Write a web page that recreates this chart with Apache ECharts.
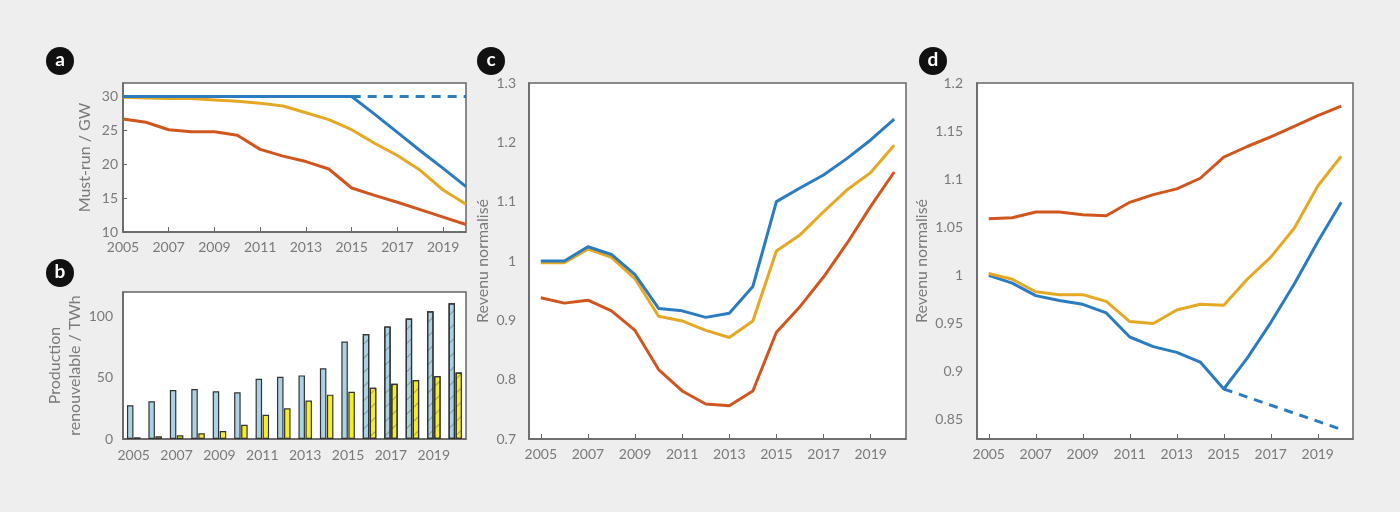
<!DOCTYPE html>
<html>
<head>
<meta charset="utf-8">
<script src="https://cdn.jsdelivr.net/npm/echarts@6/dist/echarts.min.js"></script>
<style>
  html, body { margin: 0; padding: 0; background: #eeeeee; }
  #main { width: 1400px; height: 512px; }
</style>
</head>
<body>
<div id="main"></div>
<script>
// annees
var years = ['2005','2006','2007','2008','2009','2010','2011','2012','2013','2014','2015','2016','2017','2018','2019','2020'];
var yearNums = [2005,2006,2007,2008,2009,2010,2011,2012,2013,2014,2015,2016,2017,2018,2019,2020];

// a - must-run / GW
var mustRunBlue = [30,30,30,30,30,30,30,30,30,30,30,27.4,24.7,22.0,19.4,16.7];
var mustRunBlueDash = [30,30]; // 2015 -> 2020
var mustRunYellow = [29.9,29.8,29.7,29.7,29.5,29.3,29.0,28.6,27.6,26.6,25.1,23.1,21.3,19.1,16.2,14.1];
var mustRunOrange = [26.7,26.2,25.1,24.8,24.8,24.3,22.2,21.2,20.4,19.3,16.5,15.4,14.4,13.3,12.2,11.1];

// b - production renouvelable / TWh
var prodBlue = [27.6,30.8,40,40.8,38.9,38.1,49.2,50.8,51.9,57.8,79.5,85.7,91.9,98.4,104.3,110.8];
var prodYellow = [1.4,2.2,3,4.6,6.5,11.6,19.7,25.1,31.4,36.2,38.6,41.9,45.1,48.1,51.4,54.3];
var firstProjected = 2016;

// c - revenu normalise
var revCBlue = [1.000,1.000,1.024,1.011,0.977,0.920,0.916,0.905,0.912,0.957,1.100,1.123,1.145,1.173,1.204,1.239];
var revCYellow = [0.997,0.997,1.020,1.006,0.970,0.907,0.899,0.883,0.871,0.899,1.017,1.044,1.083,1.120,1.149,1.195];
var revCOrange = [0.938,0.929,0.934,0.916,0.883,0.817,0.781,0.759,0.756,0.781,0.880,0.923,0.973,1.030,1.092,1.150];

// d - revenu normalise
var revDOrange = [1.059,1.060,1.066,1.066,1.063,1.062,1.076,1.084,1.090,1.101,1.123,1.134,1.144,1.155,1.166,1.176];
var revDYellow = [1.002,0.996,0.983,0.980,0.980,0.973,0.952,0.950,0.964,0.970,0.969,0.996,1.019,1.049,1.093,1.124];
var revDBlue = [1.000,0.992,0.979,0.974,0.970,0.961,0.936,0.926,0.920,0.910,0.882,0.914,0.951,0.991,1.035,1.076];
var revDBlueDash = [null,null,null,null,null,null,null,null,null,null,0.882,null,null,null,null,0.840];

var cBlue = '#2b7bc1', cYellow = '#e6a823', cOrange = '#d0561e';
var txt = '#7a7a7a', axisCol = '#666666';
var font = 'Lato';

var myChart = echarts.init(document.getElementById('main'));

function pairs(xs, ys) {
  var out = [];
  for (var i = 0; i < xs.length; i++) out.push([xs[i], ys[i]]);
  return out;
}

function lineSeries(x, y, data, color, dashed) {
  return {
    type: 'line', xAxisIndex: x, yAxisIndex: y, data: data,
    symbol: 'none', connectNulls: true, silent: true,
    lineStyle: { color: color, width: 3, type: dashed ? [9, 7] : 'solid' }
  };
}

// barres hachurees a partir de 2016 (projection)
function barData(vals, color) {
  return vals.map(function (v, i) {
    var item = { value: v, itemStyle: { color: color } };
    if (yearNums[i] >= firstProjected) {
      item.itemStyle.decal = {
        symbol: 'rect', symbolSize: 1, color: 'rgba(60,60,60,0.4)',
        dashArrayX: [1, 0], dashArrayY: [1, 9], rotation: -Math.PI / 4
      };
    }
    return item;
  });
}

var gridBase = { show: true, backgroundColor: '#ffffff', borderColor: axisCol, borderWidth: 1.5 };
var lbl = { color: txt, fontFamily: font, fontSize: 14 };
function nameStyle(lh) {
  return { color: txt, fontFamily: font, fontSize: 16, lineHeight: lh };
}
var axLine = { show: true, lineStyle: { color: axisCol, width: 1.5 } };
var tickIn = { show: true, inside: true, length: 5, lineStyle: { color: axisCol } };

var option = {
  backgroundColor: '#eeeeee',
  animation: false,
  grid: [
    Object.assign({ left: 123, top: 83, width: 343, height: 149 }, gridBase),
    Object.assign({ left: 123, top: 292, width: 343, height: 147 }, gridBase),
    Object.assign({ left: 529, top: 83, width: 377, height: 356 }, gridBase),
    Object.assign({ left: 977, top: 83, width: 376, height: 356 }, gridBase)
  ],
  xAxis: [
    { gridIndex: 0, type: 'value', min: 2005, max: 2020, interval: 2,
      axisLine: axLine, splitLine: { show: false }, axisTick: tickIn,
      axisLabel: Object.assign({ margin: 8, formatter: function (v) { return String(v); } }, lbl) },
    { gridIndex: 1, type: 'category', data: years,
      axisLine: axLine, axisTick: { show: false },
      axisLabel: Object.assign({ interval: 1, margin: 9 }, lbl) },
    { gridIndex: 2, type: 'category', data: years, boundaryGap: true,
      axisLine: axLine,
      axisTick: Object.assign({ alignWithLabel: true, interval: 1 }, tickIn),
      axisLabel: Object.assign({ interval: 1, margin: 8 }, lbl) },
    { gridIndex: 3, type: 'category', data: years, boundaryGap: true,
      axisLine: axLine,
      axisTick: Object.assign({ alignWithLabel: true, interval: 1 }, tickIn),
      axisLabel: Object.assign({ interval: 1, margin: 8 }, lbl) }
  ],
  yAxis: [
    { gridIndex: 0, type: 'value', min: 10, max: 32, interval: 5,
      name: 'Must-run / GW', nameLocation: 'middle', nameGap: 28, nameTextStyle: nameStyle(20),
      axisLine: axLine, splitLine: { show: false },
      axisTick: { show: true, inside: true, length: 4, lineStyle: { color: axisCol } },
      axisLabel: Object.assign({ margin: 5, showMaxLabel: false }, lbl) },
    { gridIndex: 1, type: 'value', min: 0, max: 120, interval: 50,
      name: 'Production\nrenouvelable / TWh', nameLocation: 'middle', nameGap: 27, nameTextStyle: nameStyle(20),
      axisLine: axLine, splitLine: { show: false }, axisTick: { show: false },
      axisLabel: Object.assign({ margin: 10, showMaxLabel: false }, lbl) },
    { gridIndex: 2, type: 'value', min: 0.7, max: 1.3, interval: 0.1,
      name: 'Revenu normalisé', nameLocation: 'middle', nameGap: 30, nameTextStyle: nameStyle(20),
      axisLine: axLine, splitLine: { show: false }, axisTick: { show: false },
      axisLabel: Object.assign({ margin: 13 }, lbl) },
    { gridIndex: 3, type: 'value', min: 0.83, max: 1.2, splitNumber: 7,
      name: 'Revenu normalisé', nameLocation: 'middle', nameGap: 42, nameTextStyle: nameStyle(20),
      axisLine: axLine, splitLine: { show: false }, axisTick: { show: false },
      axisLabel: Object.assign({ margin: 14, showMinLabel: false }, lbl) }
  ],
  series: [
    lineSeries(0, 0, pairs(yearNums, mustRunOrange), cOrange),
    lineSeries(0, 0, pairs(yearNums, mustRunYellow), cYellow),
    lineSeries(0, 0, [[2015, mustRunBlueDash[0]], [2020, mustRunBlueDash[1]]], cBlue, true),
    lineSeries(0, 0, pairs(yearNums, mustRunBlue), cBlue),

    { type: 'bar', xAxisIndex: 1, yAxisIndex: 1, data: barData(prodBlue, '#a9d3e4'),
      barWidth: 6.5, barGap: '8%', silent: true,
      itemStyle: { borderColor: '#333333', borderWidth: 1.2 } },
    { type: 'bar', xAxisIndex: 1, yAxisIndex: 1, data: barData(prodYellow, '#f6ee22'),
      barWidth: 6.5, barGap: '8%', silent: true,
      itemStyle: { borderColor: '#333333', borderWidth: 1.2 } },

    lineSeries(2, 2, revCOrange, cOrange),
    lineSeries(2, 2, revCYellow, cYellow),
    lineSeries(2, 2, revCBlue, cBlue),

    lineSeries(3, 3, revDOrange, cOrange),
    lineSeries(3, 3, revDBlueDash, cBlue, true),
    lineSeries(3, 3, revDBlue, cBlue),
    lineSeries(3, 3, revDYellow, cYellow)
  ],
  graphic: [
    ['a', 60, 61], ['b', 60, 273], ['c', 491, 61], ['d', 933, 61]
  ].map(function (p) {
    return {
      type: 'group', x: p[1], y: p[2],
      children: [
        { type: 'circle', shape: { cx: 0, cy: 0, r: 14 }, style: { fill: '#111111' } },
        { type: 'text', x: 0, y: -1, style: { text: p[0], fill: '#ffffff', font: 'bold 19px ' + font, align: 'center', verticalAlign: 'middle' } }
      ]
    };
  })
};

myChart.setOption(option);
</script>
</body>
</html>
